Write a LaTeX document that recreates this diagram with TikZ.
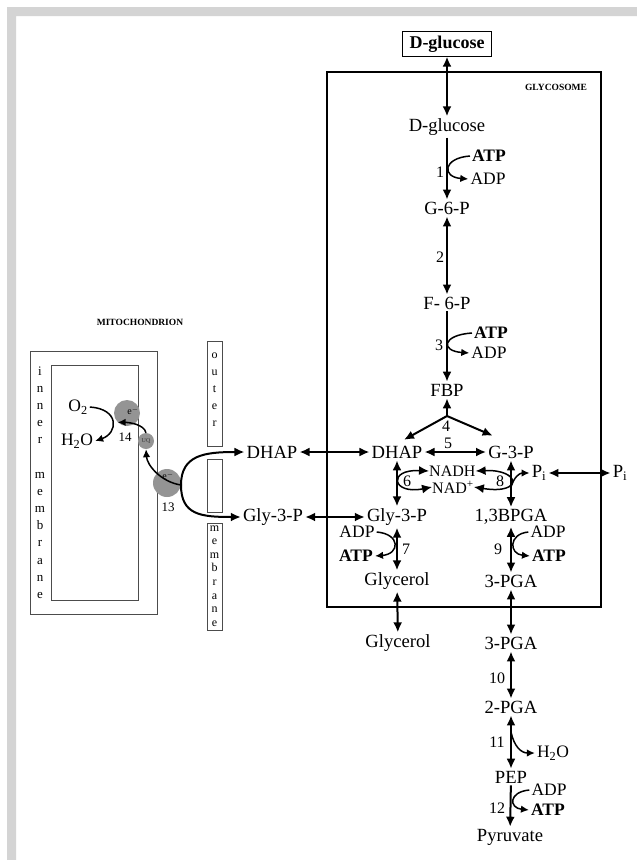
\documentclass[tikz,border=0pt]{standalone}
\usepackage{fontspec}
\setmainfont{Liberation Serif}
\usetikzlibrary{arrows.meta}

\begin{document}
\begin{tikzpicture}[
    x=1pt, y=-1pt,
    >={Latex[length=10pt,width=9pt]},
    met/.style={font=\fontsize{18.6}{20}\selectfont, inner sep=2pt},
    cof/.style={font=\fontsize{17.5}{19}\selectfont, inner sep=2pt},
    atp/.style={inner sep=2pt, font=\fontsize{17.5}{19}\selectfont\bfseries},
    nad/.style={font=\fontsize{16}{18}\selectfont, inner sep=0pt, anchor=west},
    num/.style={font=\fontsize{16}{18}\selectfont, inner sep=0pt},
    tag/.style={font=\fontsize{9.5}{10}\selectfont\bfseries, inner sep=0pt},
    ltr/.style={font=\fontsize{13}{13}\selectfont, inner sep=0pt, anchor=base},
    sltr/.style={ltr, font=\fontsize{12}{12}\selectfont},
    conv/.style={line width=2pt},
    side/.style={line width=1.5pt, -{Latex[length=8pt,width=7.5pt]}},
    wall/.style={draw=black!70, line width=0.8pt},
    carrier/.style={circle, fill=black!42, inner sep=0pt},
  ]
    \fill[white] (0,0) rectangle (637,860);
    \fill[black!17] (7,7) rectangle (637,16) (7,7) rectangle (16,860);
    \useasboundingbox (0,0) rectangle (637,860);

    % ---------- glycosome ----------
    \draw[line width=2pt] (327,72) rectangle (601,607);
    \node[tag] (glyc) at (556,87) {GLYCOSOME};
    \node[met, draw, line width=0.8pt, font=\fontsize{18}{20}\selectfont\bfseries,
          inner xsep=7pt, inner ysep=4pt] (glcout) at (447,44) {D-glucose};
    \node[met] (glcin) at (447,127) {D-glucose};
    \node[met] (g6p)   at (447,208) {G-6-P};
    \node[met] (f6p)   at (447,303) {F- 6-P};
    \node[met] (fbp)   at (447,390) {FBP};
    \node[met] (dhap)  at (397,452) {DHAP};
    \node[met] (g3p)   at (511,452) {G-3-P};
    \node[met] (gly3p) at (397,517) {Gly-3-P};
    \node[met] (bpga)  at (511,517) {1,3BPGA};
    \node[met] (glyin) at (397,581) {Glycerol};
    \node[met] (pgain) at (511,581) {3-PGA};
    \node[met] (piin)  at (539,473) {P\textsubscript{i}};
    \node[nad] (nadh)  at (429,471) {NADH};
    \node[nad] (nad)   at (432,487) {NAD\textsuperscript{+}};

    % cofactors
    \node[atp] (atp1)  at (489,156) {ATP};
    \node[cof] (adp1)  at (488,179) {ADP};
    \node[atp] (atp3)  at (491,333) {ATP};
    \node[cof] (adp3)  at (489,353) {ADP};
    \node[cof] (adp7)  at (357,532) {ADP};
    \node[atp] (atp7)  at (356,556) {ATP};
    \node[cof] (adp9)  at (548,532) {ADP};
    \node[atp] (atp9)  at (549,556) {ATP};

    % ---------- cytosol ----------
    \node[met] (glyout) at (398,643) {Glycerol};
    \node[met] (pga3)   at (511,643) {3-PGA};
    \node[met] (pga2)   at (511,707) {2-PGA};
    \node[met] (pep)    at (511,777) {PEP};
    \node[met] (pyr)    at (510,837) {Pyruvate};
    \node[cof] (h2o11)  at (553,753) {H\textsubscript{2}O};
    \node[cof] (adp12)  at (549,790) {ADP};
    \node[atp] (atp12)  at (548,810) {ATP};
    \node[met] (piout)  at (620,473) {P\textsubscript{i}};
    \node[met] (dhapout)  at (272,452) {DHAP};
    \node[met] (gly3pout) at (273,517) {Gly-3-P};

    % step numbers
    \foreach \n/\x/\y in {1/440/172, 2/440/257, 3/439/345, 4/446/426, 5/448/443,
                          6/407/481, 7/406/549, 8/500/481, 9/498/549,
                          10/497/678, 11/497/742, 12/497/808}
      \node[num] (n\n) at (\x,\y) {\n};

    % main conversions
    \foreach \a/\b in {glcout/glcin, g6p/f6p, dhap/gly3p, gly3p/glyin, glyin/glyout,
                       g3p/bpga, bpga/pgain, pgain/pga3, pga3/pga2, pga2/pep,
                       dhap/g3p, piin/piout, dhapout/dhap, gly3pout/gly3p}
      \draw[conv, <->] (\a) -- (\b);
    \foreach \a/\b in {glcin/g6p, f6p/fbp, pep/pyr}
      \draw[conv, ->] (\a) -- (\b);

    \coordinate (v4) at (447,416);
    \draw[conv, ->] (v4) -- (fbp);
    \draw[conv, ->, shorten >=8pt] (v4) -- (dhap.north);
    \draw[conv, ->, shorten >=20pt] (v4) -- (g3p.north);

    % side reactions
    \draw[side] (atp1.west) .. controls +(-27,2) and +(-27,-2) .. (adp1.west);
    \draw[side] (atp3.west) .. controls +(-30,2) and +(-29,-2) .. (adp3.west);
    \draw[side] (adp7.east) .. controls +(24,2) and +(25,-2) .. (atp7.east);
    \draw[side] (adp9.west) .. controls +(-20,2) and +(-21,-2) .. (atp9.west);
    \draw[side] (adp12.west) .. controls +(-21,2) and +(-20,-2) .. (atp12.west);
    \draw[side, <->] (nadh.west) .. controls +(-42,-2) and +(-40,8) .. (nad.west);
    \draw[side, <->] (nadh.east) .. controls +(45,-2) and +(50,8) .. (nad.east);
    \coordinate (c8) at (511,487);
    \draw[side] (c8) .. controls +(3,-10) and +(-10,0) .. (piin.west);
    \coordinate (c11) at (511,732);
    \draw[side] (c11) .. controls +(3,14) and +(-14,0) .. (h2o11.west);

    % ---------- mitochondrion ----------
    \node[tag] (mito) at (140,322) {MITOCHONDRION};
    \draw[wall] (30,351) rectangle (157,614);
    \draw[wall] (51,365) rectangle (138,600);
    \foreach \ch [count=\i] in {i,n,n,e,r}
      \node[ltr] (in\i) at (40,{375+17*(\i-1)}) {\ch};
    \foreach \ch [count=\i] in {m,e,m,b,r,a,n,e}
      \node[ltr] (im\i) at (40,{478+17.2*(\i-1)}) {\ch};

    % outer membrane
    \draw[wall] (207,341) rectangle (222,446);
    \draw[wall] (207,459) rectangle (222,512);
    \draw[wall] (207,523) rectangle (222,630);
    \foreach \ch [count=\i] in {o,u,t,e,r}
      \node[sltr] (ou\i) at (214.5,{358+17*(\i-1)}) {\ch};
    \foreach \ch [count=\i] in {m,e,m,b,r,a,n,e}
      \node[sltr] (om\i) at (214.5,{531+13.6*(\i-1)}) {\ch};

    % electron transfer
    \node[carrier, minimum size=26pt] (c14) at (127,413) {};
    \node[carrier, minimum size=16pt, font=\fontsize{6}{6}\selectfont, text=black!80] (uq) at (146,441) {UQ};
    \node[carrier, minimum size=28pt] (c13) at (167,483) {};
    \node[font=\fontsize{10}{10}\selectfont, inner sep=0pt] (e14) at (133,411) {e\textsuperscript{$-$}};
    \node[font=\fontsize{10}{10}\selectfont, inner sep=0pt] (e13) at (168,476) {e\textsuperscript{$-$}};
    \node[num, font=\fontsize{13}{13}\selectfont] (n14) at (125,437) {14};
    \node[num, font=\fontsize{13}{13}\selectfont] (n13) at (168,507) {13};
    \node[cof] (o2)    at (78,407) {O\textsubscript{2}};
    \node[cof] (h2o14) at (77,441) {H\textsubscript{2}O};

    \draw[side] (o2.east) .. controls +(30,2) and +(23,-8) .. (h2o14.east);
    \draw[side] (uq.north) .. controls +(-2,-9) and +(10,0) .. (c14.south west);
    \coordinate (b13) at (181,485);
    \draw[side] (b13) .. controls +(-20,-3) and +(1,16) .. (uq.south);
    \draw[conv, ->] (b13) .. controls +(0,-30) and +(-40,0) .. (dhapout.west);
    \draw[conv, ->] (b13) .. controls +(0,30) and +(-40,0) .. (gly3pout.west);
  \end{tikzpicture}
\end{document}
